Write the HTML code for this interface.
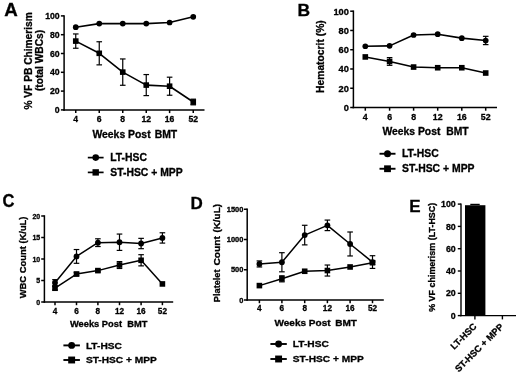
<!DOCTYPE html>
<html><head><meta charset="utf-8"><style>
html,body{margin:0;padding:0;background:#fff;}
svg{display:block;filter:blur(0.45px);}
text{font-family:"Liberation Sans", sans-serif;font-weight:bold;fill:#000;stroke:#000;stroke-width:0.3;}
</style></head><body>
<svg width="520" height="376" viewBox="0 0 520 376" stroke="#000" stroke-linecap="butt">
<rect x="0" y="0" width="520" height="376" fill="#fff" stroke="none"/>
<line x1="64.10" y1="15.15" x2="64.10" y2="110.65" stroke-width="1.5"/>
<line x1="63.35" y1="109.90" x2="204.50" y2="109.90" stroke-width="1.5"/>
<line x1="60.90" y1="109.90" x2="64.10" y2="109.90" stroke-width="1.5"/>
<line x1="60.90" y1="91.10" x2="64.10" y2="91.10" stroke-width="1.5"/>
<line x1="60.90" y1="72.30" x2="64.10" y2="72.30" stroke-width="1.5"/>
<line x1="60.90" y1="53.50" x2="64.10" y2="53.50" stroke-width="1.5"/>
<line x1="60.90" y1="34.70" x2="64.10" y2="34.70" stroke-width="1.5"/>
<line x1="60.90" y1="15.90" x2="64.10" y2="15.90" stroke-width="1.5"/>
<line x1="75.75" y1="109.90" x2="75.75" y2="113.10" stroke-width="1.5"/>
<line x1="99.25" y1="109.90" x2="99.25" y2="113.10" stroke-width="1.5"/>
<line x1="122.75" y1="109.90" x2="122.75" y2="113.10" stroke-width="1.5"/>
<line x1="146.25" y1="109.90" x2="146.25" y2="113.10" stroke-width="1.5"/>
<line x1="169.60" y1="109.90" x2="169.60" y2="113.10" stroke-width="1.5"/>
<line x1="193.25" y1="109.90" x2="193.25" y2="113.10" stroke-width="1.5"/>
<text font-size="8.7" text-anchor="end" transform="translate(59.70 112.90)">0</text>
<text font-size="8.7" text-anchor="end" transform="translate(59.70 94.10)">20</text>
<text font-size="8.7" text-anchor="end" transform="translate(59.70 75.30)">40</text>
<text font-size="8.7" text-anchor="end" transform="translate(59.70 56.50)">60</text>
<text font-size="8.7" text-anchor="end" transform="translate(59.70 37.70)">80</text>
<text font-size="8.7" text-anchor="end" transform="translate(59.70 18.90)">100</text>
<text font-size="8.8" text-anchor="middle" transform="translate(75.75 122.40) scale(0.98 1)">4</text>
<text font-size="8.8" text-anchor="middle" transform="translate(99.25 122.40) scale(0.98 1)">6</text>
<text font-size="8.8" text-anchor="middle" transform="translate(122.75 122.40) scale(0.98 1)">8</text>
<text font-size="8.8" text-anchor="middle" transform="translate(146.25 122.40) scale(0.98 1)">12</text>
<text font-size="8.8" text-anchor="middle" transform="translate(169.60 122.40) scale(0.98 1)">16</text>
<text font-size="8.8" text-anchor="middle" transform="translate(193.25 122.40) scale(0.98 1)">52</text>
<polyline points="75.75,27.18 99.25,23.61 122.75,23.61 146.25,23.61 169.60,22.48 193.25,16.84" fill="none" stroke-width="1.6" stroke-linejoin="round"/>
<circle cx="75.75" cy="27.18" r="2.85" stroke="none"/>
<circle cx="99.25" cy="23.61" r="2.85" stroke="none"/>
<circle cx="122.75" cy="23.61" r="2.85" stroke="none"/>
<circle cx="146.25" cy="23.61" r="2.85" stroke="none"/>
<circle cx="169.60" cy="22.48" r="2.85" stroke="none"/>
<circle cx="193.25" cy="16.84" r="2.85" stroke="none"/>
<polyline points="75.75,41.09 99.25,53.31 122.75,72.11 146.25,85.08 169.60,86.21 193.25,102.00" fill="none" stroke-width="1.6" stroke-linejoin="round"/>
<line x1="75.75" y1="48.24" x2="75.75" y2="33.95" stroke-width="1.2"/>
<line x1="72.95" y1="48.24" x2="78.55" y2="48.24" stroke-width="1.2"/>
<line x1="72.95" y1="33.95" x2="78.55" y2="33.95" stroke-width="1.2"/>
<line x1="99.25" y1="64.87" x2="99.25" y2="41.75" stroke-width="1.2"/>
<line x1="96.45" y1="64.87" x2="102.05" y2="64.87" stroke-width="1.2"/>
<line x1="96.45" y1="41.75" x2="102.05" y2="41.75" stroke-width="1.2"/>
<line x1="122.75" y1="85.27" x2="122.75" y2="58.95" stroke-width="1.2"/>
<line x1="119.95" y1="85.27" x2="125.55" y2="85.27" stroke-width="1.2"/>
<line x1="119.95" y1="58.95" x2="125.55" y2="58.95" stroke-width="1.2"/>
<line x1="146.25" y1="95.61" x2="146.25" y2="74.56" stroke-width="1.2"/>
<line x1="143.45" y1="95.61" x2="149.05" y2="95.61" stroke-width="1.2"/>
<line x1="143.45" y1="74.56" x2="149.05" y2="74.56" stroke-width="1.2"/>
<line x1="169.60" y1="95.24" x2="169.60" y2="77.19" stroke-width="1.2"/>
<line x1="166.80" y1="95.24" x2="172.40" y2="95.24" stroke-width="1.2"/>
<line x1="166.80" y1="77.19" x2="172.40" y2="77.19" stroke-width="1.2"/>
<line x1="193.25" y1="104.82" x2="193.25" y2="99.18" stroke-width="1.2"/>
<line x1="190.45" y1="104.82" x2="196.05" y2="104.82" stroke-width="1.2"/>
<line x1="190.45" y1="99.18" x2="196.05" y2="99.18" stroke-width="1.2"/>
<rect x="72.95" y="38.29" width="5.6" height="5.6" stroke="none"/>
<rect x="96.45" y="50.51" width="5.6" height="5.6" stroke="none"/>
<rect x="119.95" y="69.31" width="5.6" height="5.6" stroke="none"/>
<rect x="143.45" y="82.28" width="5.6" height="5.6" stroke="none"/>
<rect x="166.80" y="83.41" width="5.6" height="5.6" stroke="none"/>
<rect x="190.45" y="99.20" width="5.6" height="5.6" stroke="none"/>
<text font-size="10.1" text-anchor="start" transform="translate(92.40 138.00) scale(1.03 1)">Weeks Post</text>
<text font-size="10.1" text-anchor="start" transform="translate(154.70 138.00) scale(1.03 1)">BMT</text>
<text font-size="10.2" text-anchor="middle" transform="translate(31.50 60.90) rotate(-90)">% VF PB Chimerism</text>
<text font-size="10.2" text-anchor="middle" transform="translate(42.90 60.50) rotate(-90)">(total WBCs)</text>
<line x1="87.80" y1="157.60" x2="103.60" y2="157.60" stroke-width="1.7"/>
<circle cx="95.70" cy="157.60" r="3.3" stroke="none"/>
<line x1="87.80" y1="172.40" x2="103.60" y2="172.40" stroke-width="1.7"/>
<rect x="92.50" y="169.20" width="6.4" height="6.4" stroke="none"/>
<text font-size="10.2" text-anchor="start" transform="translate(110.20 161.22) scale(1.02 1)">LT-HSC</text>
<text font-size="10.2" text-anchor="start" transform="translate(110.20 176.02) scale(1.02 1)">ST-HSC + MPP</text>
<text font-size="18" text-anchor="start" transform="translate(4.30 15.60) scale(1.04 1)">A</text>
<line x1="353.40" y1="10.45" x2="353.40" y2="108.25" stroke-width="1.5"/>
<line x1="352.65" y1="107.50" x2="497.00" y2="107.50" stroke-width="1.5"/>
<line x1="350.20" y1="107.50" x2="353.40" y2="107.50" stroke-width="1.5"/>
<line x1="350.20" y1="88.24" x2="353.40" y2="88.24" stroke-width="1.5"/>
<line x1="350.20" y1="68.98" x2="353.40" y2="68.98" stroke-width="1.5"/>
<line x1="350.20" y1="49.72" x2="353.40" y2="49.72" stroke-width="1.5"/>
<line x1="350.20" y1="30.46" x2="353.40" y2="30.46" stroke-width="1.5"/>
<line x1="350.20" y1="11.20" x2="353.40" y2="11.20" stroke-width="1.5"/>
<line x1="365.30" y1="107.50" x2="365.30" y2="110.70" stroke-width="1.5"/>
<line x1="389.60" y1="107.50" x2="389.60" y2="110.70" stroke-width="1.5"/>
<line x1="413.60" y1="107.50" x2="413.60" y2="110.70" stroke-width="1.5"/>
<line x1="437.70" y1="107.50" x2="437.70" y2="110.70" stroke-width="1.5"/>
<line x1="461.80" y1="107.50" x2="461.80" y2="110.70" stroke-width="1.5"/>
<line x1="485.70" y1="107.50" x2="485.70" y2="110.70" stroke-width="1.5"/>
<text font-size="8.9" text-anchor="end" transform="translate(348.80 110.80) scale(1.04 1)">0</text>
<text font-size="8.9" text-anchor="end" transform="translate(348.80 91.54) scale(1.04 1)">20</text>
<text font-size="8.9" text-anchor="end" transform="translate(348.80 72.28) scale(1.04 1)">40</text>
<text font-size="8.9" text-anchor="end" transform="translate(348.80 53.02) scale(1.04 1)">60</text>
<text font-size="8.9" text-anchor="end" transform="translate(348.80 33.76) scale(1.04 1)">80</text>
<text font-size="8.9" text-anchor="end" transform="translate(348.80 14.50) scale(1.04 1)">100</text>
<text font-size="9.1" text-anchor="middle" transform="translate(365.30 120.30) scale(0.97 1)">4</text>
<text font-size="9.1" text-anchor="middle" transform="translate(389.60 120.30) scale(0.97 1)">6</text>
<text font-size="9.1" text-anchor="middle" transform="translate(413.60 120.30) scale(0.97 1)">8</text>
<text font-size="9.1" text-anchor="middle" transform="translate(437.70 120.30) scale(0.97 1)">12</text>
<text font-size="9.1" text-anchor="middle" transform="translate(461.80 120.30) scale(0.97 1)">16</text>
<text font-size="9.1" text-anchor="middle" transform="translate(485.70 120.30) scale(0.97 1)">52</text>
<polyline points="365.30,46.25 389.60,45.87 413.60,34.99 437.70,34.22 461.80,38.16 485.70,40.48" fill="none" stroke-width="1.6" stroke-linejoin="round"/>
<line x1="485.70" y1="44.62" x2="485.70" y2="36.33" stroke-width="1.2"/>
<line x1="482.90" y1="44.62" x2="488.50" y2="44.62" stroke-width="1.2"/>
<line x1="482.90" y1="36.33" x2="488.50" y2="36.33" stroke-width="1.2"/>
<circle cx="365.30" cy="46.25" r="2.85" stroke="none"/>
<circle cx="389.60" cy="45.87" r="2.85" stroke="none"/>
<circle cx="413.60" cy="34.99" r="2.85" stroke="none"/>
<circle cx="437.70" cy="34.22" r="2.85" stroke="none"/>
<circle cx="461.80" cy="38.16" r="2.85" stroke="none"/>
<circle cx="485.70" cy="40.48" r="2.85" stroke="none"/>
<polyline points="365.30,56.94 389.60,61.47 413.60,67.05 437.70,67.73 461.80,67.73 485.70,73.02" fill="none" stroke-width="1.6" stroke-linejoin="round"/>
<line x1="389.60" y1="65.32" x2="389.60" y2="57.62" stroke-width="1.2"/>
<line x1="386.80" y1="65.32" x2="392.40" y2="65.32" stroke-width="1.2"/>
<line x1="386.80" y1="57.62" x2="392.40" y2="57.62" stroke-width="1.2"/>
<rect x="362.50" y="54.14" width="5.6" height="5.6" stroke="none"/>
<rect x="386.80" y="58.67" width="5.6" height="5.6" stroke="none"/>
<rect x="410.80" y="64.25" width="5.6" height="5.6" stroke="none"/>
<rect x="434.90" y="64.93" width="5.6" height="5.6" stroke="none"/>
<rect x="459.00" y="64.93" width="5.6" height="5.6" stroke="none"/>
<rect x="482.90" y="70.22" width="5.6" height="5.6" stroke="none"/>
<text font-size="10.35" text-anchor="start" transform="translate(382.50 135.40)">Weeks Post</text>
<text font-size="10.35" text-anchor="start" transform="translate(446.20 135.40)">BMT</text>
<text font-size="10.3" text-anchor="middle" transform="translate(323.50 56.60) rotate(-90)">Hematocrit (%)</text>
<line x1="379.50" y1="153.75" x2="395.50" y2="153.75" stroke-width="1.9"/>
<circle cx="387.50" cy="153.75" r="3.5" stroke="none"/>
<line x1="379.50" y1="168.75" x2="395.50" y2="168.75" stroke-width="1.9"/>
<rect x="384.10" y="165.35" width="6.8" height="6.8" stroke="none"/>
<text font-size="10.2" text-anchor="start" transform="translate(402.00 157.37) scale(1.02 1)">LT-HSC</text>
<text font-size="10.2" text-anchor="start" transform="translate(402.00 172.37) scale(1.02 1)">ST-HSC + MPP</text>
<text font-size="17.4" text-anchor="start" transform="translate(297.50 15.60)">B</text>
<line x1="44.40" y1="215.25" x2="44.40" y2="302.75" stroke-width="1.5"/>
<line x1="43.65" y1="302.00" x2="173.20" y2="302.00" stroke-width="1.5"/>
<line x1="41.20" y1="302.00" x2="44.40" y2="302.00" stroke-width="1.5"/>
<line x1="41.20" y1="280.50" x2="44.40" y2="280.50" stroke-width="1.5"/>
<line x1="41.20" y1="259.00" x2="44.40" y2="259.00" stroke-width="1.5"/>
<line x1="41.20" y1="237.50" x2="44.40" y2="237.50" stroke-width="1.5"/>
<line x1="41.20" y1="216.00" x2="44.40" y2="216.00" stroke-width="1.5"/>
<line x1="55.00" y1="302.00" x2="55.00" y2="305.20" stroke-width="1.5"/>
<line x1="76.50" y1="302.00" x2="76.50" y2="305.20" stroke-width="1.5"/>
<line x1="97.90" y1="302.00" x2="97.90" y2="305.20" stroke-width="1.5"/>
<line x1="119.50" y1="302.00" x2="119.50" y2="305.20" stroke-width="1.5"/>
<line x1="141.10" y1="302.00" x2="141.10" y2="305.20" stroke-width="1.5"/>
<line x1="162.40" y1="302.00" x2="162.40" y2="305.20" stroke-width="1.5"/>
<text font-size="7.0" text-anchor="end" transform="translate(40.20 304.50)">0</text>
<text font-size="7.0" text-anchor="end" transform="translate(40.20 283.00)">5</text>
<text font-size="7.0" text-anchor="end" transform="translate(40.20 261.50)">10</text>
<text font-size="7.0" text-anchor="end" transform="translate(40.20 240.00)">15</text>
<text font-size="7.0" text-anchor="end" transform="translate(40.20 218.50)">20</text>
<text font-size="8.2" text-anchor="middle" transform="translate(55.00 313.50)">4</text>
<text font-size="8.2" text-anchor="middle" transform="translate(76.50 313.50)">6</text>
<text font-size="8.2" text-anchor="middle" transform="translate(97.90 313.50)">8</text>
<text font-size="8.2" text-anchor="middle" transform="translate(119.50 313.50)">12</text>
<text font-size="8.2" text-anchor="middle" transform="translate(141.10 313.50)">16</text>
<text font-size="8.2" text-anchor="middle" transform="translate(162.40 313.50)">52</text>
<polyline points="55.00,282.65 76.50,256.42 97.90,242.66 119.50,242.23 141.10,243.52 162.40,237.93" fill="none" stroke-width="1.5" stroke-linejoin="round"/>
<line x1="55.00" y1="285.66" x2="55.00" y2="279.64" stroke-width="1.2"/>
<line x1="52.20" y1="285.66" x2="57.80" y2="285.66" stroke-width="1.2"/>
<line x1="52.20" y1="279.64" x2="57.80" y2="279.64" stroke-width="1.2"/>
<line x1="76.50" y1="263.30" x2="76.50" y2="249.54" stroke-width="1.2"/>
<line x1="73.70" y1="263.30" x2="79.30" y2="263.30" stroke-width="1.2"/>
<line x1="73.70" y1="249.54" x2="79.30" y2="249.54" stroke-width="1.2"/>
<line x1="97.90" y1="246.53" x2="97.90" y2="238.79" stroke-width="1.2"/>
<line x1="95.10" y1="246.53" x2="100.70" y2="246.53" stroke-width="1.2"/>
<line x1="95.10" y1="238.79" x2="100.70" y2="238.79" stroke-width="1.2"/>
<line x1="119.50" y1="250.40" x2="119.50" y2="234.06" stroke-width="1.2"/>
<line x1="116.70" y1="250.40" x2="122.30" y2="250.40" stroke-width="1.2"/>
<line x1="116.70" y1="234.06" x2="122.30" y2="234.06" stroke-width="1.2"/>
<line x1="141.10" y1="248.68" x2="141.10" y2="238.36" stroke-width="1.2"/>
<line x1="138.30" y1="248.68" x2="143.90" y2="248.68" stroke-width="1.2"/>
<line x1="138.30" y1="238.36" x2="143.90" y2="238.36" stroke-width="1.2"/>
<line x1="162.40" y1="243.09" x2="162.40" y2="232.77" stroke-width="1.2"/>
<line x1="159.60" y1="243.09" x2="165.20" y2="243.09" stroke-width="1.2"/>
<line x1="159.60" y1="232.77" x2="165.20" y2="232.77" stroke-width="1.2"/>
<circle cx="55.00" cy="282.65" r="2.9" stroke="none"/>
<circle cx="76.50" cy="256.42" r="2.9" stroke="none"/>
<circle cx="97.90" cy="242.66" r="2.9" stroke="none"/>
<circle cx="119.50" cy="242.23" r="2.9" stroke="none"/>
<circle cx="141.10" cy="243.52" r="2.9" stroke="none"/>
<circle cx="162.40" cy="237.93" r="2.9" stroke="none"/>
<polyline points="55.00,288.24 76.50,274.05 97.90,270.61 119.50,265.02 141.10,260.29 162.40,283.94" fill="none" stroke-width="1.5" stroke-linejoin="round"/>
<line x1="55.00" y1="289.96" x2="55.00" y2="286.52" stroke-width="1.2"/>
<line x1="52.20" y1="289.96" x2="57.80" y2="289.96" stroke-width="1.2"/>
<line x1="52.20" y1="286.52" x2="57.80" y2="286.52" stroke-width="1.2"/>
<line x1="76.50" y1="275.77" x2="76.50" y2="272.33" stroke-width="1.2"/>
<line x1="73.70" y1="275.77" x2="79.30" y2="275.77" stroke-width="1.2"/>
<line x1="73.70" y1="272.33" x2="79.30" y2="272.33" stroke-width="1.2"/>
<line x1="97.90" y1="271.90" x2="97.90" y2="269.32" stroke-width="1.2"/>
<line x1="95.10" y1="271.90" x2="100.70" y2="271.90" stroke-width="1.2"/>
<line x1="95.10" y1="269.32" x2="100.70" y2="269.32" stroke-width="1.2"/>
<line x1="119.50" y1="268.46" x2="119.50" y2="261.58" stroke-width="1.2"/>
<line x1="116.70" y1="268.46" x2="122.30" y2="268.46" stroke-width="1.2"/>
<line x1="116.70" y1="261.58" x2="122.30" y2="261.58" stroke-width="1.2"/>
<line x1="141.10" y1="265.88" x2="141.10" y2="254.70" stroke-width="1.2"/>
<line x1="138.30" y1="265.88" x2="143.90" y2="265.88" stroke-width="1.2"/>
<line x1="138.30" y1="254.70" x2="143.90" y2="254.70" stroke-width="1.2"/>
<rect x="52.20" y="285.44" width="5.6" height="5.6" stroke="none"/>
<rect x="73.70" y="271.25" width="5.6" height="5.6" stroke="none"/>
<rect x="95.10" y="267.81" width="5.6" height="5.6" stroke="none"/>
<rect x="116.70" y="262.22" width="5.6" height="5.6" stroke="none"/>
<rect x="138.30" y="257.49" width="5.6" height="5.6" stroke="none"/>
<rect x="159.60" y="281.14" width="5.6" height="5.6" stroke="none"/>
<text font-size="9.3" text-anchor="start" transform="translate(70.00 327.40)">Weeks Post</text>
<text font-size="9.3" text-anchor="start" transform="translate(127.20 327.40)">BMT</text>
<text font-size="9.3" text-anchor="middle" transform="translate(25.70 257.40) rotate(-90) scale(1.01 1)">WBC Count (K/uL)</text>
<line x1="63.40" y1="345.40" x2="79.90" y2="345.40" stroke-width="1.9"/>
<circle cx="71.65" cy="345.40" r="3.45" stroke="none"/>
<line x1="63.40" y1="360.00" x2="79.90" y2="360.00" stroke-width="1.9"/>
<rect x="68.20" y="356.55" width="6.9" height="6.9" stroke="none"/>
<text font-size="9.8" text-anchor="start" transform="translate(85.90 348.88) scale(1.04 1)">LT-HSC</text>
<text font-size="9.8" text-anchor="start" transform="translate(85.90 363.48) scale(1.04 1)">ST-HSC + MPP</text>
<text font-size="17.6" text-anchor="start" transform="translate(2.60 207.40) scale(0.94 1)">C</text>
<line x1="247.20" y1="208.50" x2="247.20" y2="300.75" stroke-width="1.5"/>
<line x1="246.45" y1="300.00" x2="383.80" y2="300.00" stroke-width="1.5"/>
<line x1="244.00" y1="300.00" x2="247.20" y2="300.00" stroke-width="1.5"/>
<line x1="244.00" y1="269.75" x2="247.20" y2="269.75" stroke-width="1.5"/>
<line x1="244.00" y1="239.50" x2="247.20" y2="239.50" stroke-width="1.5"/>
<line x1="244.00" y1="209.25" x2="247.20" y2="209.25" stroke-width="1.5"/>
<line x1="259.40" y1="300.00" x2="259.40" y2="303.20" stroke-width="1.5"/>
<line x1="281.90" y1="300.00" x2="281.90" y2="303.20" stroke-width="1.5"/>
<line x1="304.70" y1="300.00" x2="304.70" y2="303.20" stroke-width="1.5"/>
<line x1="327.40" y1="300.00" x2="327.40" y2="303.20" stroke-width="1.5"/>
<line x1="350.10" y1="300.00" x2="350.10" y2="303.20" stroke-width="1.5"/>
<line x1="372.50" y1="300.00" x2="372.50" y2="303.20" stroke-width="1.5"/>
<text font-size="7.0" text-anchor="end" transform="translate(243.40 302.50) scale(1.07 1)">0</text>
<text font-size="7.0" text-anchor="end" transform="translate(243.40 272.25) scale(1.07 1)">500</text>
<text font-size="7.0" text-anchor="end" transform="translate(243.40 242.00) scale(1.07 1)">1000</text>
<text font-size="7.0" text-anchor="end" transform="translate(243.40 211.75) scale(1.07 1)">1500</text>
<text font-size="8.2" text-anchor="middle" transform="translate(259.40 311.30)">4</text>
<text font-size="8.2" text-anchor="middle" transform="translate(281.90 311.30)">6</text>
<text font-size="8.2" text-anchor="middle" transform="translate(304.70 311.30)">8</text>
<text font-size="8.2" text-anchor="middle" transform="translate(327.40 311.30)">12</text>
<text font-size="8.2" text-anchor="middle" transform="translate(350.10 311.30)">16</text>
<text font-size="8.2" text-anchor="middle" transform="translate(372.50 311.30)">52</text>
<polyline points="259.40,263.94 281.90,262.25 304.70,235.08 327.40,225.34 350.10,243.98 372.50,262.07" fill="none" stroke-width="1.5" stroke-linejoin="round"/>
<line x1="259.40" y1="266.97" x2="259.40" y2="260.92" stroke-width="1.2"/>
<line x1="256.60" y1="266.97" x2="262.20" y2="266.97" stroke-width="1.2"/>
<line x1="256.60" y1="260.92" x2="262.20" y2="260.92" stroke-width="1.2"/>
<line x1="281.90" y1="271.81" x2="281.90" y2="252.69" stroke-width="1.2"/>
<line x1="279.10" y1="271.81" x2="284.70" y2="271.81" stroke-width="1.2"/>
<line x1="279.10" y1="252.69" x2="284.70" y2="252.69" stroke-width="1.2"/>
<line x1="304.70" y1="244.88" x2="304.70" y2="225.28" stroke-width="1.2"/>
<line x1="301.90" y1="244.88" x2="307.50" y2="244.88" stroke-width="1.2"/>
<line x1="301.90" y1="225.28" x2="307.50" y2="225.28" stroke-width="1.2"/>
<line x1="327.40" y1="230.61" x2="327.40" y2="220.08" stroke-width="1.2"/>
<line x1="324.60" y1="230.61" x2="330.20" y2="230.61" stroke-width="1.2"/>
<line x1="324.60" y1="220.08" x2="330.20" y2="220.08" stroke-width="1.2"/>
<line x1="350.10" y1="255.96" x2="350.10" y2="232.00" stroke-width="1.2"/>
<line x1="347.30" y1="255.96" x2="352.90" y2="255.96" stroke-width="1.2"/>
<line x1="347.30" y1="232.00" x2="352.90" y2="232.00" stroke-width="1.2"/>
<line x1="372.50" y1="268.42" x2="372.50" y2="255.71" stroke-width="1.2"/>
<line x1="369.70" y1="268.42" x2="375.30" y2="268.42" stroke-width="1.2"/>
<line x1="369.70" y1="255.71" x2="375.30" y2="255.71" stroke-width="1.2"/>
<circle cx="259.40" cy="263.94" r="2.9" stroke="none"/>
<circle cx="281.90" cy="262.25" r="2.9" stroke="none"/>
<circle cx="304.70" cy="235.08" r="2.9" stroke="none"/>
<circle cx="327.40" cy="225.34" r="2.9" stroke="none"/>
<circle cx="350.10" cy="243.98" r="2.9" stroke="none"/>
<circle cx="372.50" cy="262.07" r="2.9" stroke="none"/>
<polyline points="259.40,285.60 281.90,278.82 304.70,271.26 327.40,270.54 350.10,266.97 372.50,262.67" fill="none" stroke-width="1.5" stroke-linejoin="round"/>
<line x1="281.90" y1="281.85" x2="281.90" y2="275.80" stroke-width="1.2"/>
<line x1="279.10" y1="281.85" x2="284.70" y2="281.85" stroke-width="1.2"/>
<line x1="279.10" y1="275.80" x2="284.70" y2="275.80" stroke-width="1.2"/>
<line x1="327.40" y1="276.04" x2="327.40" y2="265.03" stroke-width="1.2"/>
<line x1="324.60" y1="276.04" x2="330.20" y2="276.04" stroke-width="1.2"/>
<line x1="324.60" y1="265.03" x2="330.20" y2="265.03" stroke-width="1.2"/>
<line x1="372.50" y1="264.49" x2="372.50" y2="260.86" stroke-width="1.2"/>
<line x1="369.70" y1="264.49" x2="375.30" y2="264.49" stroke-width="1.2"/>
<line x1="369.70" y1="260.86" x2="375.30" y2="260.86" stroke-width="1.2"/>
<rect x="256.60" y="282.80" width="5.6" height="5.6" stroke="none"/>
<rect x="279.10" y="276.02" width="5.6" height="5.6" stroke="none"/>
<rect x="301.90" y="268.46" width="5.6" height="5.6" stroke="none"/>
<rect x="324.60" y="267.74" width="5.6" height="5.6" stroke="none"/>
<rect x="347.30" y="264.17" width="5.6" height="5.6" stroke="none"/>
<rect x="369.70" y="259.87" width="5.6" height="5.6" stroke="none"/>
<text font-size="9.3" text-anchor="start" transform="translate(274.50 326.00) scale(1.08 1)">Weeks Post</text>
<text font-size="9.3" text-anchor="start" transform="translate(335.20 326.00) scale(1.08 1)">BMT</text>
<line x1="270.40" y1="344.00" x2="286.80" y2="344.00" stroke-width="1.9"/>
<circle cx="278.60" cy="344.00" r="3.45" stroke="none"/>
<line x1="270.40" y1="359.00" x2="286.80" y2="359.00" stroke-width="1.9"/>
<rect x="275.15" y="355.55" width="6.9" height="6.9" stroke="none"/>
<text font-size="9.8" text-anchor="start" transform="translate(292.80 347.48) scale(1.04 1)">LT-HSC</text>
<text font-size="9.8" text-anchor="start" transform="translate(292.80 362.48) scale(1.04 1)">ST-HSC + MPP</text>
<text font-size="17" text-anchor="start" transform="translate(190.50 208.80)">D</text>
<line x1="461.00" y1="203.40" x2="461.00" y2="316.30" stroke-width="1.4"/>
<line x1="460.30" y1="315.60" x2="516.00" y2="315.60" stroke-width="1.4"/>
<line x1="457.80" y1="315.60" x2="461.00" y2="315.60" stroke-width="1.4"/>
<text font-size="8.8" text-anchor="end" transform="translate(455.70 318.70)">0</text>
<line x1="457.80" y1="293.30" x2="461.00" y2="293.30" stroke-width="1.4"/>
<text font-size="8.8" text-anchor="end" transform="translate(455.70 296.40)">20</text>
<line x1="457.80" y1="271.00" x2="461.00" y2="271.00" stroke-width="1.4"/>
<text font-size="8.8" text-anchor="end" transform="translate(455.70 274.10)">40</text>
<line x1="457.80" y1="248.70" x2="461.00" y2="248.70" stroke-width="1.4"/>
<text font-size="8.8" text-anchor="end" transform="translate(455.70 251.80)">60</text>
<line x1="457.80" y1="226.40" x2="461.00" y2="226.40" stroke-width="1.4"/>
<text font-size="8.8" text-anchor="end" transform="translate(455.70 229.50)">80</text>
<line x1="457.80" y1="204.10" x2="461.00" y2="204.10" stroke-width="1.4"/>
<text font-size="8.8" text-anchor="end" transform="translate(455.70 207.20)">100</text>
<line x1="474.90" y1="315.60" x2="474.90" y2="319.40" stroke-width="1.4"/>
<line x1="502.40" y1="315.60" x2="502.40" y2="319.40" stroke-width="1.4"/>
<rect x="465.00" y="205.22" width="20.40" height="110.38" stroke="none"/>
<line x1="470.30" y1="204.43" x2="479.70" y2="204.43" stroke-width="1.3"/>
<text font-size="9.2" text-anchor="end" transform="translate(477.20 327.00) rotate(-45)">LT-HSC</text>
<text font-size="9.2" text-anchor="end" transform="translate(504.00 327.30) rotate(-45)">ST-HSC + MPP</text>
<text font-size="8.95" text-anchor="middle" transform="translate(434.70 257.30) rotate(-90)">% VF chimerism (LT-HSC)</text>
<text font-size="17" text-anchor="start" transform="translate(409.20 211.80)">E</text>
<text font-size="9.9" text-anchor="middle" transform="translate(220.30 285.80) rotate(-90) scale(0.93 1)">Platelet</text>
<text font-size="9.9" text-anchor="middle" transform="translate(220.30 250.85) rotate(-90) scale(1.03 1)">Count</text>
<text font-size="9.9" text-anchor="middle" transform="translate(220.30 218.30) rotate(-90)">(K/uL)</text>
</svg>
</body></html>
